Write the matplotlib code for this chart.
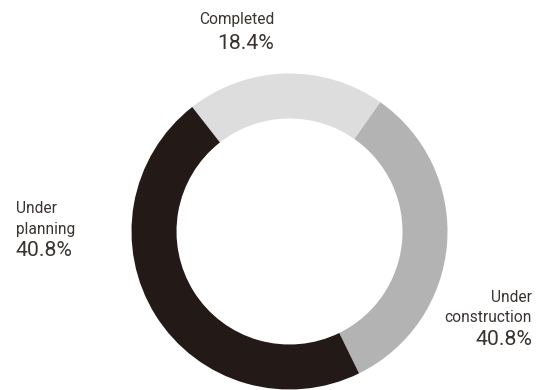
import matplotlib
matplotlib.use("Agg")
import matplotlib.pyplot as plt

# data
names = ["Completed", "Under\nconstruction", "Under\nplanning"]
pct_labels = ["18.4%", "40.8%", "40.8%"]
# arc shares as drawn in the picture (percent of the ring)
arc_shares = [20.3, 33.0, 46.7]
colors = ["#dcdddc", "#b3b3b3", "#231916"]

W, H, DPI = 542, 390, 100
txt_color = "#3a3431"

plt.rcParams['font.family'] = ['Roboto', 'DejaVu Sans']

fig = plt.figure(figsize=(W / DPI, H / DPI), dpi=DPI)

# ring: center (289.5, 231.5) px from top-left, outer radius 158 px
cx, cy, R = 289.5, H - 231.5, 158
ax = fig.add_axes([(cx - R) / W, (cy - R) / H, 2 * R / W, 2 * R / H])
ax.pie(arc_shares, colors=colors, startangle=128, counterclock=False,
       radius=1, wedgeprops=dict(width=1 - 113 / 158, linewidth=0))
ax.set_xlim(-1, 1)
ax.set_ylim(-1, 1)
ax.set_aspect("equal")
ax.axis("off")


def px(x, y):
    # pixel position (from top-left) to figure fraction
    return x / W, 1 - y / H


def label(name, value, x, name_y, val_y, ha, gap=20.5):
    for i, line in enumerate(name.split("\n")):
        fig.text(*px(x, name_y + i * gap), line, ha=ha, va="baseline",
                 fontsize=11.2, color=txt_color)
    fig.text(*px(x, val_y), value, ha=ha, va="baseline", fontsize=15.3,
             color=txt_color)


label(names[0], pct_labels[0], 274, 24, 48.7, "right")
label(names[1], pct_labels[1], 532, 301.7, 345, "right")
label(names[2], pct_labels[2], 16, 213.3, 256, "left")

fig.savefig("out.png", dpi=DPI)
